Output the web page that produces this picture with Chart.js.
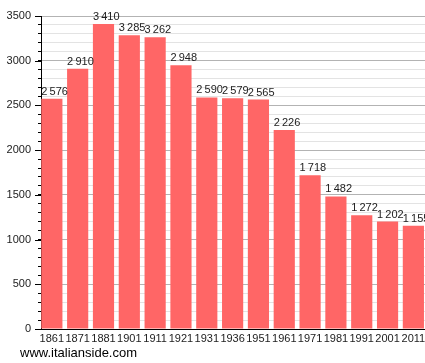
<!DOCTYPE html>
<html>
<head>
<meta charset="utf-8">
<script src="https://cdn.jsdelivr.net/npm/chart.js@4/dist/chart.umd.min.js"></script>
<style>
  html, body { margin: 0; padding: 0; background: #fff; }
  #wrap { position: relative; width: 425px; height: 363px; overflow: hidden; }
  #footer { position: absolute; left: 20px; top: 345px; font: 13px "Liberation Sans", Arial, sans-serif; color: #000; }
</style>
</head>
<body>
<div id="wrap">
  <canvas id="popChart" width="425" height="363"></canvas>
  <div id="footer">www.italianside.com</div>
</div>
<script>
// ── data ────────────────────────────────────────────────
const YEARS  = ['1861','1871','1881','1901','1911','1921','1931','1936','1951','1961','1971','1981','1991','2001','2011'];
const POP    = [2576, 2910, 3410, 3285, 3262, 2948, 2590, 2579, 2565, 2226, 1718, 1482, 1272, 1202, 1155];
const Y_MAX  = 3500;
const MAJOR  = 500;

const BAR_COLOR = '#ff6666';
const FONT = '"Liberation Sans", Arial, sans-serif';

const fmtThousands = v => String(v).replace(/\B(?=(\d{3})+(?!\d))/g, '\u2009');

// ── value labels above bars (left aligned on the bar) ──
const barLabels = {
  id: 'barLabels',
  afterDatasetsDraw(chart) {
    const ctx = chart.ctx;
    const meta = chart.getDatasetMeta(0);
    ctx.save();
    ctx.font = '11px ' + FONT;
    ctx.fillStyle = '#222';
    ctx.textAlign = 'left';
    ctx.textBaseline = 'alphabetic';
    meta.data.forEach((bar, i) => {
      ctx.fillText(fmtThousands(POP[i]), bar.x - bar.width / 2, bar.y - 4);
    });
    ctx.restore();
  }
};

// ── longer tick marks on the major y values ─────────────
const majorTicks = {
  id: 'majorTicks',
  afterDraw(chart) {
    const y = chart.scales.y, ctx = chart.ctx;
    const x0 = chart.chartArea.left;
    ctx.save();
    ctx.strokeStyle = '#000';
    ctx.lineWidth = 1;
    ctx.beginPath();
    for (let v = 0; v <= Y_MAX; v += MAJOR) {
      const py = Math.round(y.getPixelForValue(v)) + 0.5;
      ctx.moveTo(x0 - 6, py);
      ctx.lineTo(x0, py);
    }
    ctx.stroke();
    ctx.restore();
  }
};

new Chart(document.getElementById('popChart'), {
  type: 'bar',
  data: {
    datasets: [{
      data: POP.map((v, i) => ({ x: i, y: v })),
      backgroundColor: BAR_COLOR, borderWidth: 0, barPercentage: 0.82, categoryPercentage: 1
    }]
  },
  options: {
    responsive: false, animation: false,
    layout: { padding: { top: 16, right: 0, left: 0, bottom: 0 } },
    plugins: { legend: { display: false }, tooltip: { enabled: false } },
    scales: {
      x: {
        type: 'linear', min: -0.42, max: 14.45, offset: false,
        grid: { display: false, drawTicks: false },
        border: { color: '#000', width: 1 },
        ticks: {
          stepSize: 1, includeBounds: false, autoSkip: false, maxRotation: 0,
          color: '#222', font: { size: 11, family: FONT }, padding: 3,
          callback: v => YEARS[v] ?? ''
        },
        afterFit: s => { s.height = 34; s.paddingLeft = 0; s.paddingRight = 0; }
      },
      y: {
        min: 0, max: Y_MAX,
        border: { color: '#000', width: 1 },
        grid: {
          color: c => (c.tick && c.tick.value % MAJOR === 0) ? '#b3b3b3' : '#e3e3e3',
          tickColor: '#000', tickLength: 3, drawTicks: true
        },
        ticks: {
          stepSize: 100, autoSkip: false, color: '#222',
          font: { size: 11, family: FONT }, padding: 7,
          callback: v => v % MAJOR === 0 ? v : ''
        },
        afterFit: s => { s.width = 41; }
      }
    }
  },
  plugins: [barLabels, majorTicks]
});
</script>
</body>
</html>
